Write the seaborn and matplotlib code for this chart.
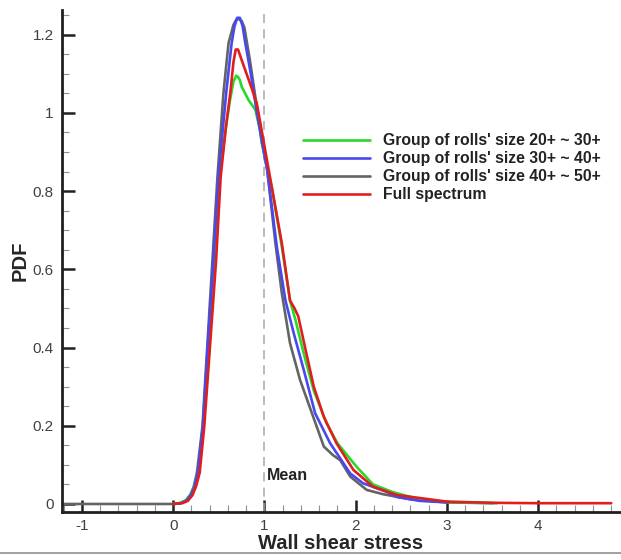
import numpy as np
import pandas as pd
import matplotlib
matplotlib.use("Agg")
import matplotlib.pyplot as plt
from matplotlib.lines import Line2D
from matplotlib.ticker import MultipleLocator
import seaborn as sns

# ---- data ----
labels = ["Group of rolls' size 20+ ~ 30+",
          "Group of rolls' size 30+ ~ 40+",
          "Group of rolls' size 40+ ~ 50+",
          "Full spectrum"]
colors = ["#2ad82a", "#4848f0", "#646464", "#e01e1e"]

green_x = [0.0, 0.08, 0.14, 0.19, 0.23, 0.275, 0.33, 0.39, 0.45, 0.51, 0.57, 0.62, 0.66, 0.69,
           0.71, 0.73, 0.75, 0.825, 0.90, 0.95, 0.97, 1.08, 1.19, 1.28, 1.34, 1.43, 1.54, 1.68,
           1.8, 2.01, 2.19, 2.41, 2.7, 3.0, 3.55]
green_y = [0.0, 0.003, 0.01, 0.025, 0.045, 0.08, 0.198, 0.41, 0.624, 0.837, 0.95, 1.03, 1.08,
           1.095, 1.092, 1.084, 1.067, 1.033, 1.008, 0.957, 0.922, 0.81, 0.658, 0.52, 0.47,
           0.385, 0.29, 0.206, 0.155, 0.095, 0.05, 0.03, 0.012, 0.005, 0.002]

blue_x = [0.0, 0.08, 0.14, 0.19, 0.23, 0.27, 0.325, 0.38, 0.44, 0.495, 0.58, 0.64, 0.67, 0.70,
          0.73, 0.76, 0.79, 0.85, 0.91, 0.97, 1.03, 1.135, 1.23, 1.32, 1.43, 1.555, 1.72, 1.94,
          2.08, 2.34, 2.45, 2.7, 3.0]
blue_y = [0.0, 0.002, 0.008, 0.022, 0.042, 0.08, 0.198, 0.41, 0.624, 0.837, 1.05, 1.178, 1.22,
          1.243, 1.243, 1.222, 1.178, 1.10, 1.01, 0.93, 0.854, 0.658, 0.52, 0.437, 0.343, 0.232,
          0.155, 0.078, 0.053, 0.031, 0.018, 0.008, 0.004]

gray_x = [-1.22, 0.0, 0.08, 0.14, 0.19, 0.225, 0.26, 0.32, 0.375, 0.43, 0.485, 0.55, 0.606,
          0.66, 0.69, 0.72, 0.75, 0.78, 0.84, 0.92, 0.97, 1.03, 1.12, 1.19, 1.28, 1.39, 1.52,
          1.65, 1.75, 1.83, 1.94, 2.12, 2.3, 2.6, 3.0, 3.5]
gray_y = [0.0, 0.0, 0.002, 0.008, 0.024, 0.045, 0.08, 0.198, 0.41, 0.624, 0.837, 1.05, 1.178,
          1.225, 1.238, 1.24, 1.235, 1.218, 1.135, 1.008, 0.93, 0.854, 0.667, 0.539, 0.411,
          0.317, 0.232, 0.147, 0.125, 0.112, 0.07, 0.036, 0.025, 0.012, 0.004, 0.002]

red_x = [0.0, 0.1, 0.16, 0.21, 0.25, 0.29, 0.34, 0.405, 0.47, 0.52, 0.58, 0.625, 0.66, 0.685,
         0.71, 0.75, 0.84, 0.915, 0.95, 1.08, 1.19, 1.28, 1.33, 1.37, 1.445, 1.54, 1.65, 1.79,
         1.975, 2.19, 2.45, 3.0, 3.5, 4.0, 4.8]
red_y = [0.0, 0.002, 0.008, 0.022, 0.045, 0.08, 0.198, 0.41, 0.624, 0.837, 0.97, 1.05, 1.13,
         1.162, 1.162, 1.135, 1.076, 1.025, 0.98, 0.81, 0.667, 0.52, 0.50, 0.48, 0.40, 0.30,
         0.223, 0.155, 0.087, 0.044, 0.023, 0.006, 0.003, 0.002, 0.002]

mean_value = 1.0
x_ticks = [-1, 0, 1, 2, 3, 4]
y_ticks = [0, 0.2, 0.4, 0.6, 0.8, 1.0, 1.2]
y_tick_labels = ["0", "0.2", "0.4", "0.6", "0.8", "1", "1.2"]

# ---- plot ----
sns.set_style("ticks")
plt.rcParams["font.family"] = ["Liberation Sans", "DejaVu Sans"]

fig = plt.figure(figsize=(6.21, 5.60), dpi=100)
ax = fig.add_axes([62 / 621, 48 / 560, 558 / 621, 502 / 560])

series = [(green_x, green_y), (blue_x, blue_y), (gray_x, gray_y), (red_x, red_y)]
zorders = [3, 4, 2, 5]
handles = []
for (xs, ys), lab, col, z in zip(series, labels, colors, zorders):
    df = pd.DataFrame({"x": xs, "y": ys})
    sns.lineplot(data=df, x="x", y="y", ax=ax, color=col, linewidth=1.9,
                 zorder=z, sort=False, estimator=None)
    handles.append(Line2D([], [], color=col, linewidth=1.9, label=lab))

ax.axvline(mean_value, color="#a8a8a8", linewidth=1.1, linestyle=(0, (6, 4)), zorder=1)
ax.text(mean_value + 0.025, 0.074, "Mean", fontsize=11.5, fontweight="bold",
        color="#222222", va="center", ha="left")

ax.set_xlim(-1.219, 4.896)
ax.set_ylim(-0.0205, 1.263)

ax.set_xticks(x_ticks)
ax.set_xticklabels([str(t) for t in x_ticks])
ax.set_yticks(y_ticks)
ax.set_yticklabels(y_tick_labels)
ax.xaxis.set_minor_locator(MultipleLocator(0.2))
ax.yaxis.set_minor_locator(MultipleLocator(0.05))

ax.tick_params(which="major", direction="in", length=9, width=1.8, color="#202020",
               labelsize=11, labelcolor="#404040")
ax.tick_params(axis="y", which="major", pad=6)
ax.tick_params(axis="x", which="major", pad=5)
ax.tick_params(which="minor", direction="in", length=5, width=0.8, color="#909090")

for s in ["top", "right"]:
    ax.spines[s].set_visible(False)
for s in ["left", "bottom"]:
    ax.spines[s].set_linewidth(2.0)
    ax.spines[s].set_color("#202020")

ax.set_xlabel("Wall shear stress", fontsize=14.5, fontweight="bold", labelpad=1)
ax.set_ylabel("PDF", fontsize=14.5, fontweight="bold")
ax.yaxis.set_label_coords((30 - 62) / 558, 0.5)

leg = ax.legend(handles=handles, loc="upper left",
                bbox_to_anchor=((303 - 62) / 558, (512 - 133) / 502),
                frameon=False, fontsize=11.3, handlelength=4.3, handletextpad=0.8,
                labelspacing=0.2, borderpad=0, borderaxespad=0)
for t in leg.get_texts():
    t.set_fontweight("bold")
    t.set_color("#222222")

fig.add_artist(Line2D([0, 1], [1 - 553 / 560, 1 - 553 / 560], color="#909090", linewidth=1.2))

fig.savefig("out.png", dpi=100)
